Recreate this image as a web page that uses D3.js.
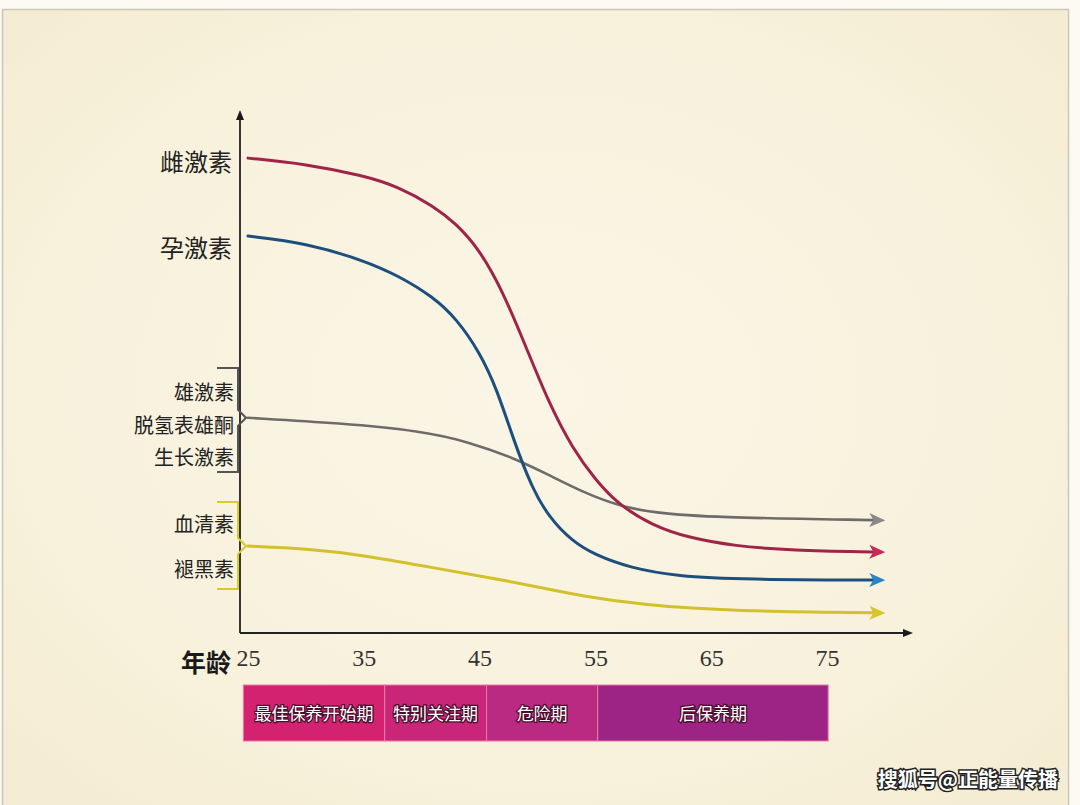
<!DOCTYPE html>
<html><head><meta charset="utf-8">
<script src="https://cdn.jsdelivr.net/npm/d3@7"></script>
<style>
html,body{margin:0;padding:0;background:#fcfaf1;}
svg{display:block;}
</style></head>
<body>
<svg id="chart" width="1080" height="805"></svg>
<script>
// ---- data ----
const xTicks = [25, 35, 45, 55, 65, 75];
const estrogenAges = [25, 30, 35, 38, 41, 43, 45, 47, 49, 51, 53, 55, 57, 60, 63, 67, 72, 79];
const estrogen     = [89.6, 88.5, 86.3, 84.2, 80.6, 77.2, 72.3, 64.5, 54.0, 43.3, 34.9, 28.9, 24.2, 20.2, 18.0, 16.4, 15.6, 15.3];
const progesteroneAges = [25, 30, 35, 38, 41, 43, 45, 46.5, 48, 49.5, 51, 53, 55, 58, 62, 68, 79];
const progesterone     = [74.9, 73.6, 70.3, 67.4, 63.4, 59.3, 53.0, 46.0, 36.0, 27.5, 21.8, 17.3, 14.7, 12.3, 10.7, 10.1, 10.0];
const androgenAges = [25, 33, 40, 44, 48, 51, 54, 57, 60, 65, 79];
const androgen     = [40.6, 39.6, 38.1, 36.1, 33.0, 29.8, 26.5, 24.0, 22.7, 21.8, 21.3];
const serotoninAges = [25, 30, 35, 41, 46, 50, 54, 59, 67, 79];
const serotonin     = [16.4, 15.9, 14.7, 12.3, 10.4, 8.7, 6.9, 5.3, 4.1, 3.8];
const stageBounds = [24.6, 36.8, 45.6, 55.2, 75.1];
const stageLabels = ["最佳保养开始期", "特别关注期", "危险期", "后保养期"];
const yLabelsTop = ["雌激素", "孕激素"];
const grayGroupLabels = ["雄激素", "脱氢表雄酮", "生长激素"];
const yellowGroupLabels = ["血清素", "褪黑素"];

// ---- layout ----
const svg = d3.select("#chart");
const x = d3.scaleLinear().domain([25, 75]).range([248, 827]);
const y = d3.scaleLinear().domain([0, 100]).range([633, 103]);
const axisX0 = 240, axisY0 = 633;

// background
const defs = svg.append("defs");
const rg = defs.append("radialGradient").attr("id", "bg").attr("cx", "50%").attr("cy", "48%").attr("r", "65%");
rg.append("stop").attr("offset", "0%").attr("stop-color", "#faf5e5");
rg.append("stop").attr("offset", "70%").attr("stop-color", "#f8f1dc");
rg.append("stop").attr("offset", "100%").attr("stop-color", "#f5edd3");
svg.append("rect").attr("x", 0).attr("y", 0).attr("width", 1080).attr("height", 805).attr("fill", "#fcfaf2");
svg.append("rect").attr("x", 2.5).attr("y", 9.5).attr("width", 1066).attr("height", 800)
  .attr("fill", "url(#bg)").attr("stroke", "#c8c6ba").attr("stroke-width", 1.5);

// markers
function marker(id, color) {
  defs.append("marker").attr("id", id).attr("viewBox", "0 0 16 16")
    .attr("refX", 4).attr("refY", 8).attr("markerWidth", 16).attr("markerHeight", 16)
    .attr("markerUnits", "userSpaceOnUse").attr("orient", "auto")
    .append("path").attr("d", "M0,1 L16,8 L0,15 L4,8 Z").attr("fill", color);
}
marker("arrRed", "#c9285a");
marker("arrBlue", "#2a84c6");
marker("arrGray", "#8a8888");
marker("arrYellow", "#d9c62c");
defs.append("marker").attr("id", "arrAxis").attr("viewBox", "0 0 10 10")
  .attr("refX", 2).attr("refY", 5).attr("markerWidth", 10).attr("markerHeight", 10)
  .attr("markerUnits", "userSpaceOnUse").attr("orient", "auto")
  .append("path").attr("d", "M0,1 L10,5 L0,9 Z").attr("fill", "#1a1a1a");

// axes lines
svg.append("line").attr("x1", axisX0).attr("y1", axisY0).attr("x2", axisX0).attr("y2", 118)
  .attr("stroke", "#222").attr("stroke-width", 1.8).attr("marker-end", "url(#arrAxis)");
svg.append("line").attr("x1", axisX0).attr("y1", axisY0).attr("x2", 905).attr("y2", axisY0)
  .attr("stroke", "#222").attr("stroke-width", 2).attr("marker-end", "url(#arrAxis)");

// tick labels via axis
const xAxis = d3.axisBottom(x).tickValues(xTicks).tickSize(0).tickPadding(0).tickFormat(d3.format("d"));
const gx = svg.append("g").attr("transform", `translate(0,${axisY0 + 16})`).call(xAxis);
gx.select(".domain").remove();
gx.selectAll("text").attr("font-family", "'Liberation Serif', serif").attr("font-size", 24)
  .attr("fill", "#333").attr("dy", "0.71em").attr("y", 0);

svg.append("text").attr("x", 206).attr("y", 672).attr("text-anchor", "middle")
  .attr("font-family", "'Noto Sans CJK SC'").attr("font-weight", 700).attr("font-size", 25)
  .attr("fill", "#1a1a1a").text("年龄");

// curves
const line = d3.line().x(d => x(d[0])).y(d => y(d[1])).curve(d3.curveBasis);
const series = [
  {ages: androgenAges, vals: androgen, color: "#6e6c6a", mk: "arrGray", w: 2.6},
  {ages: serotoninAges, vals: serotonin, color: "#d2c12a", mk: "arrYellow", w: 3},
  {ages: progesteroneAges, vals: progesterone, color: "#1d4f7e", mk: "arrBlue", w: 3},
  {ages: estrogenAges, vals: estrogen, color: "#9e2448", mk: "arrRed", w: 3}
];
series.forEach(s => {
  svg.append("path").datum(s.ages.map((a, i) => [a, s.vals[i]]))
    .attr("d", line).attr("fill", "none").attr("stroke", s.color)
    .attr("stroke-width", s.w).attr("stroke-linecap", "round").attr("marker-end", `url(#${s.mk})`);
});

// y labels
const cjk = "'Noto Sans CJK SC'";
svg.selectAll(".ytop").data(yLabelsTop).enter().append("text")
  .attr("x", 232).attr("y", (d, i) => i === 0 ? y(estrogen[0]) + 4 : y(progesterone[0]) + 13)
  .attr("dy", "0.35em").attr("text-anchor", "end").attr("font-family", cjk)
  .attr("font-size", 24).attr("fill", "#222").text(d => d);

svg.selectAll(".ygray").data(grayGroupLabels).enter().append("text")
  .attr("x", 234).attr("y", (d, i) => 393 + i * 32.5).attr("dy", "0.35em")
  .attr("text-anchor", "end").attr("font-family", cjk).attr("font-size", 20)
  .attr("fill", "#222").text(d => d);
svg.selectAll(".yyel").data(yellowGroupLabels).enter().append("text")
  .attr("x", 234).attr("y", (d, i) => 525 + i * 45).attr("dy", "0.35em")
  .attr("text-anchor", "end").attr("font-family", cjk).attr("font-size", 20)
  .attr("fill", "#222").text(d => d);

// brackets
function bracket(top, bot, mid, color) {
  const p = d3.path();
  p.moveTo(217, top); p.lineTo(238, top); p.lineTo(238, mid - 8); p.lineTo(246, mid);
  p.lineTo(238, mid + 8); p.lineTo(238, bot); p.lineTo(217, bot);
  svg.append("path").attr("d", p.toString()).attr("fill", "none").attr("stroke", color).attr("stroke-width", 2);
}
bracket(368, 472, y(androgen[0]), "#555");
bracket(502, 589, y(serotonin[0]), "#d8cc2a");

// stage bar
const stages = stageLabels.map((l, i) => ({label: l, a: stageBounds[i], b: stageBounds[i + 1]}));
const stageColors = ["#d3226f", "#c9267a", "#bb2a82", "#9d2384"];
const bar = svg.append("g");
bar.selectAll("rect").data(stages).enter().append("rect")
  .attr("x", d => x(d.a)).attr("y", 685).attr("width", d => x(d.b) - x(d.a)).attr("height", 56)
  .attr("fill", (d, i) => stageColors[i]).attr("stroke", "#e87aa6").attr("stroke-width", 1);
bar.selectAll("text").data(stages).enter().append("text")
  .attr("x", d => (x(d.a) + x(d.b)) / 2).attr("y", 714).attr("dy", "0.35em")
  .attr("text-anchor", "middle").attr("font-family", cjk).attr("font-size", 17)
  .attr("fill", "#fff").attr("stroke", "#4a0c2c").attr("stroke-width", 2.5)
  .attr("paint-order", "stroke").text(d => d.label);

// watermark
svg.append("text").attr("x", 1058).attr("y", 780).attr("dy", "0.35em").attr("text-anchor", "end")
  .attr("font-family", cjk).attr("font-weight", 700).attr("font-size", 20)
  .attr("fill", "#fff").attr("stroke", "#222").attr("stroke-width", 3).attr("paint-order", "stroke")
  .text("搜狐号@正能量传播");
</script>
</body></html>
